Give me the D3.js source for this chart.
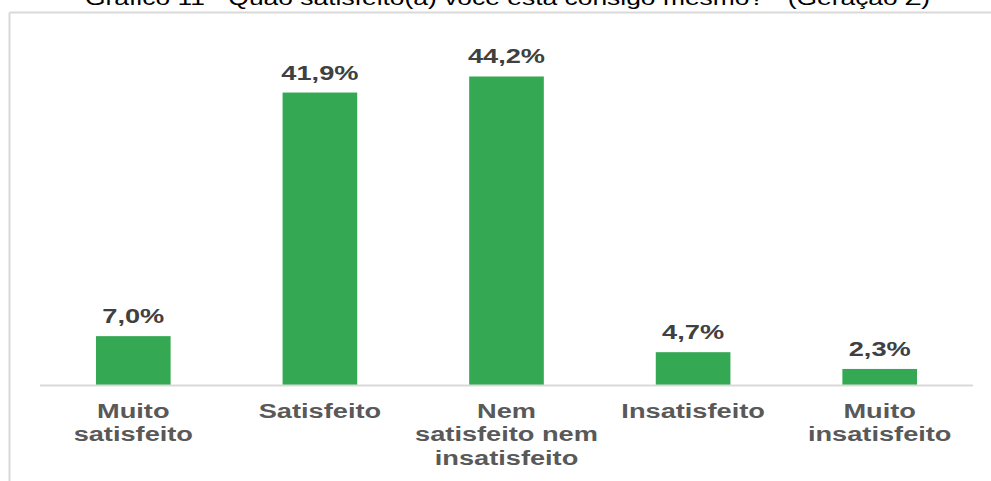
<!DOCTYPE html>
<html>
<head>
<meta charset="utf-8">
<script src="https://cdn.jsdelivr.net/npm/d3@7"></script>
<style>
  html, body { margin: 0; padding: 0; background: #fff; }
  svg { display: block; }
</style>
</head>
<body>
<svg id="chart" width="991" height="481"></svg>
<script>
const title = "Gráfico 11 - Quão satisfeito(a) você está consigo mesmo? - (Geração Z)";
const categories = ["Muito satisfeito", "Satisfeito", "Nem satisfeito nem insatisfeito", "Insatisfeito", "Muito insatisfeito"];
const categoryLines = [["Muito", "satisfeito"], ["Satisfeito"], ["Nem", "satisfeito nem", "insatisfeito"], ["Insatisfeito"], ["Muito", "insatisfeito"]];
const values = [7.0, 41.9, 44.2, 4.7, 2.3];
const valueLabels = ["7,0%", "41,9%", "44,2%", "4,7%", "2,3%"];
const yDomain = [0, 50];

const svg = d3.select("#chart");
const W = 991, H = 481;
const sx = 1.36;
const font = "Arial, 'Liberation Sans', sans-serif";

// chart area border (light grey, top and left visible)
svg.append("line").attr("x1", 9.5).attr("x2", W).attr("y1", 12.5).attr("y2", 12.5)
  .attr("stroke", "#d9d9d9").attr("stroke-width", 2);
svg.append("line").attr("x1", 9.5).attr("x2", 9.5).attr("y1", 12.5).attr("y2", H)
  .attr("stroke", "#d9d9d9").attr("stroke-width", 2);

// title (clipped at the top, as in the reference)
svg.append("text")
  .attr("x", 85).attr("y", 5)
  .attr("textLength", 845).attr("lengthAdjust", "spacingAndGlyphs")
  .attr("font-family", font).attr("font-size", 20).attr("fill", "#000")
  .text(title);

const x = d3.scaleBand().domain(categories).range([40, 973]).paddingInner(0.6).paddingOuter(0.3);
const y = d3.scaleLinear().domain(yDomain).range([385, 36]);

// bars
svg.append("g").selectAll("rect").data(values).join("rect")
  .attr("x", (d, i) => x(categories[i]))
  .attr("y", d => y(d))
  .attr("width", x.bandwidth())
  .attr("height", d => y(0) - y(d))
  .attr("fill", "#34a853");

// axis line
const axis = svg.append("g").attr("transform", `translate(0,${y(0)})`)
  .call(d3.axisBottom(x).tickSize(0).tickFormat(""));
axis.select(".domain").attr("stroke", "#d9d9d9").attr("stroke-width", 2).attr("d", "M40,0.5H973");

// value labels
svg.append("g").selectAll("text").data(values).join("text")
  .attr("transform", (d, i) => `translate(${x(categories[i]) + x.bandwidth() / 2},${y(d) - 13}) scale(${sx},1)`)
  .attr("text-anchor", "middle")
  .attr("font-family", font).attr("font-size", 20).attr("font-weight", "bold")
  .attr("fill", "#404040")
  .text((d, i) => valueLabels[i]);

// category labels
const cat = svg.append("g").selectAll("g").data(categories).join("g")
  .attr("transform", (d, i) => `translate(${x(d) + x.bandwidth() / 2},418) scale(${sx},1)`);
cat.each(function(d, i) {
  d3.select(this).selectAll("text").data(categoryLines[i]).join("text")
    .attr("x", 0).attr("y", (t, j) => j * 23.5)
    .attr("text-anchor", "middle")
    .attr("font-family", font).attr("font-size", 20).attr("font-weight", "bold")
    .attr("fill", "#595959")
    .text(t => t);
});
</script>
</body>
</html>
